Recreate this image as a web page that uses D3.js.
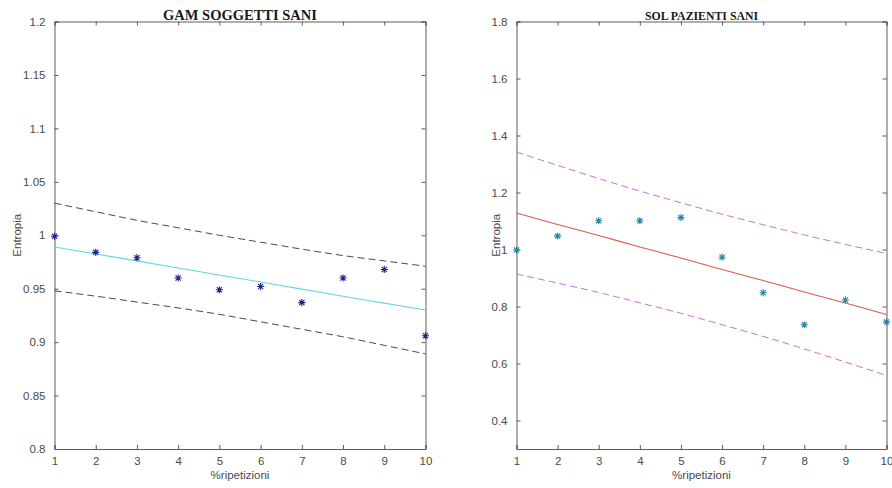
<!DOCTYPE html>
<html>
<head>
<meta charset="utf-8">
<script src="https://cdn.jsdelivr.net/npm/d3@7"></script>
<style>
  html, body { margin: 0; padding: 0; background: #fff; }
  svg { display: block; }
</style>
</head>
<body>
<svg id="chart" width="892" height="488"></svg>
<script>
// ---------- data ----------
const repetitions = [1, 2, 3, 4, 5, 6, 7, 8, 9, 10];
const xTicks = [1, 2, 3, 4, 5, 6, 7, 8, 9, 10];

// Left panel: GAM SOGGETTI SANI
const gamEntropy = [0.999, 0.984, 0.979, 0.960, 0.949, 0.952, 0.937, 0.960, 0.968, 0.906];
const gamFit     = [0.989, 0.9825, 0.976, 0.9694, 0.9628, 0.9562, 0.9496, 0.943, 0.9365, 0.930];
const gamUpper   = [1.030, 1.022, 1.014, 1.007, 1.000, 0.9935, 0.987, 0.981, 0.976, 0.971];
const gamLower   = [0.948, 0.943, 0.9375, 0.932, 0.926, 0.919, 0.912, 0.905, 0.897, 0.889];
const gamYTicks  = [0.8, 0.85, 0.9, 0.95, 1, 1.05, 1.1, 1.15, 1.2];
const gamYLabels = ["0.8", "0.85", "0.9", "0.95", "1", "1.05", "1.1", "1.15", "1.2"];

// Right panel: SOL PAZIENTI SANI
const solEntropy = [0.998, 1.047, 1.101, 1.101, 1.112, 0.973, 0.848, 0.736, 0.823, 0.746];
const solFit     = [1.128, 1.088, 1.049, 1.009, 0.970, 0.930, 0.891, 0.851, 0.812, 0.772];
const solUpper   = [1.342, 1.295, 1.249, 1.205, 1.164, 1.124, 1.087, 1.051, 1.018, 0.986];
const solLower   = [0.914, 0.882, 0.849, 0.813, 0.776, 0.736, 0.695, 0.651, 0.605, 0.558];
const solYTicks  = [0.4, 0.6, 0.8, 1, 1.2, 1.4, 1.6, 1.8];
const solYLabels = ["0.4", "0.6", "0.8", "1", "1.2", "1.4", "1.6", "1.8"];

const panels = [
  {
    title: "GAM SOGGETTI SANI", titleSize: 14.5,
    left: 54.5, right: 425.5, top: 21.5, bottom: 449,
    yDomain: [0.8, 1.2], yTicks: gamYTicks, yLabels: gamYLabels,
    points: gamEntropy, fit: gamFit, upper: gamUpper, lower: gamLower,
    pointColor: "#23238c", fitColor: "#62d8e2", boundColor: "#4a4a4a",
    ylabelX: 21
  },
  {
    title: "SOL PAZIENTI SANI", titleSize: 11.8,
    left: 516.5, right: 886.5, top: 21.5, bottom: 449,
    yDomain: [0.3, 1.8], yTicks: solYTicks, yLabels: solYLabels,
    points: solEntropy, fit: solFit, upper: solUpper, lower: solLower,
    pointColor: "#2a86a3", fitColor: "#dc5a4e", boundColor: "#c673d8",
    ylabelX: 500
  }
];

const svg = d3.select("#chart");
const axisColor = "#5c5c5c";
const textColor = "#4a4a4a";
const tickLen = 4;

function asterisk(r) {
  const d = r * 0.72;
  return `M${-r},0L${r},0M0,${-r}L0,${r}M${-d},${-d}L${d},${d}M${-d},${d}L${d},${-d}`;
}

panels.forEach(p => {
  const x = d3.scaleLinear().domain([1, 10]).range([p.left, p.right]);
  const y = d3.scaleLinear().domain(p.yDomain).range([p.bottom, p.top]);
  const g = svg.append("g");

  const xAxisB = d3.axisBottom(x).tickValues(xTicks).tickSize(-tickLen).tickPadding(8)
    .tickFormat(d3.format("d"));
  const gxb = g.append("g").attr("transform", `translate(0,${p.bottom})`).call(xAxisB);
  const gxt = g.append("g").attr("transform", `translate(0,${p.top})`)
    .call(d3.axisTop(x).tickValues(xTicks).tickSize(-tickLen).tickFormat(""));
  const yAxisL = d3.axisLeft(y).tickValues(p.yTicks).tickSize(-tickLen).tickPadding(9)
    .tickFormat((d, i) => p.yLabels[i]);
  const gyl = g.append("g").attr("transform", `translate(${p.left},0)`).call(yAxisL);
  const gyr = g.append("g").attr("transform", `translate(${p.right},0)`)
    .call(d3.axisRight(y).tickValues(p.yTicks).tickSize(-tickLen).tickFormat(""));

  [gxb, gxt, gyl, gyr].forEach(a => {
    a.select(".domain").attr("stroke", axisColor).attr("stroke-width", 1);
    a.selectAll(".tick line").attr("stroke", axisColor);
    a.selectAll(".tick text").attr("fill", textColor)
      .style("font-family", "'Liberation Sans', Arial, sans-serif")
      .style("font-size", "11.5px");
  });

  const line = d3.line().x((d, i) => x(repetitions[i])).y(d => y(d)).curve(d3.curveMonotoneX);
  [p.upper, p.lower].forEach(arr => {
    g.append("path").datum(arr).attr("d", line)
      .attr("fill", "none").attr("stroke", p.boundColor)
      .attr("stroke-width", 1).attr("stroke-dasharray", "7,4");
  });
  g.append("path").datum(p.fit).attr("d", line)
    .attr("fill", "none").attr("stroke", p.fitColor).attr("stroke-width", 1.1);

  g.selectAll(".pt").data(p.points).enter().append("path")
    .attr("class", "pt")
    .attr("transform", (d, i) => `translate(${x(repetitions[i])},${y(d)})`)
    .attr("d", asterisk(3.6))
    .attr("stroke", p.pointColor).attr("stroke-width", 1.1).attr("fill", "none");

  g.append("text")
    .attr("x", (p.left + p.right) / 2).attr("y", 19.5)
    .attr("text-anchor", "middle")
    .style("font-family", "'Liberation Serif', 'Times New Roman', serif")
    .style("font-weight", "bold")
    .style("font-size", p.titleSize + "px")
    .attr("fill", "#1a1a1a")
    .text(p.title);

  g.append("text")
    .attr("x", (p.left + p.right) / 2).attr("y", 479)
    .attr("text-anchor", "middle")
    .style("font-family", "'Liberation Sans', Arial, sans-serif")
    .style("font-size", "11.5px")
    .attr("fill", textColor)
    .text("%ripetizioni");

  g.append("text")
    .attr("transform", `translate(${p.ylabelX},${(p.top + p.bottom) / 2}) rotate(-90)`)
    .attr("text-anchor", "middle")
    .style("font-family", "'Liberation Sans', Arial, sans-serif")
    .style("font-size", "11.5px")
    .attr("fill", textColor)
    .text("Entropia");
});
</script>
</body>
</html>
